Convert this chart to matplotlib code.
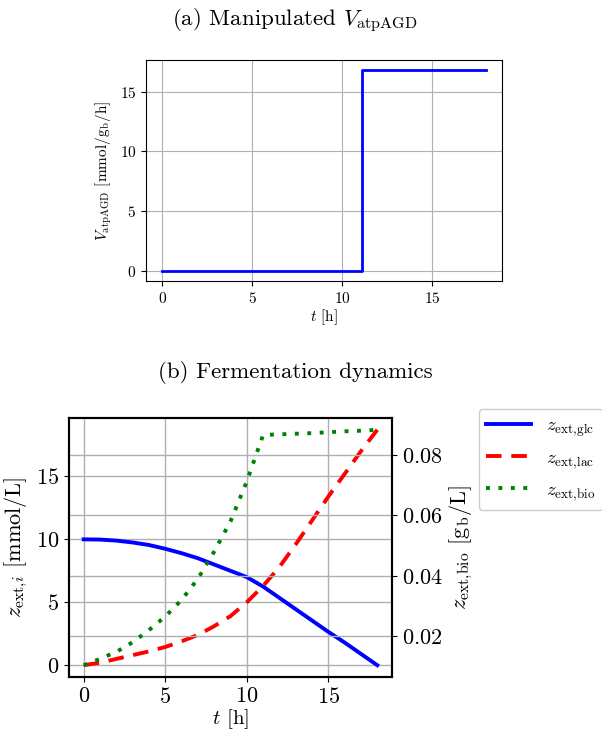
import numpy as np
import matplotlib
matplotlib.use('Agg')
import matplotlib.pyplot as plt

plt.rcParams['font.family'] = 'serif'
plt.rcParams['font.serif'] = ['cmr10']
plt.rcParams['mathtext.fontset'] = 'cm'
plt.rcParams['axes.formatter.use_mathtext'] = True
plt.rcParams['axes.unicode_minus'] = False

# (a) manipulated variable, step input
t_step = [0, 11.1, 18]
V_atp = [0, 16.8, 16.8]

t = list(range(19))
glc = [10.0, 9.98, 9.9, 9.75, 9.55, 9.25, 8.9, 8.5, 8.0, 7.5, 7.0,
       6.25, 5.35, 4.45, 3.55, 2.65, 1.8, 0.9, 0.0]
lac = [0.0, 0.2, 0.5, 0.8, 1.1, 1.45, 1.9, 2.4, 3.1, 3.9, 5.0,
       6.3, 7.8, 9.6, 11.5, 13.4, 15.2, 17.0, 18.7]
bio = [0.0104, 0.0125, 0.0148, 0.018, 0.022, 0.0265, 0.032, 0.039, 0.048,
       0.058, 0.0712, 0.0866, 0.0868, 0.087, 0.0872, 0.0875, 0.0878, 0.088, 0.0883]

fig = plt.figure(figsize=(6.02, 7.33), dpi=100)

# ---- (a)
ax = fig.add_axes([0.2425, 0.6166, 0.5914, 0.3015])
ax.plot(t_step, V_atp, drawstyle='steps-post', color='blue', lw=2)
ax.set_xticks([0, 5, 10, 15])
ax.set_yticks([0, 5, 10, 15])
ax.grid(True, color='#b0b0b0', lw=0.8)
ax.tick_params(labelsize=11)
ax.set_xlabel(r'$t$ [h]', fontsize=11, labelpad=1)
ax.set_ylabel(r'$V_{\mathrm{atpAGD}}$ [mmol/g$_\mathrm{b}$/h]', fontsize=11)
fig.text(0.49, 0.972, r'(a) Manipulated $V_{\mathrm{atpAGD}}$', ha='center', va='center', fontsize=16.5)

# ---- (b)
ax1 = fig.add_axes([0.1146, 0.0764, 0.5365, 0.3533])
ax2 = ax1.twinx()
l1, = ax1.plot(t, glc, color='blue', lw=2.8, label=r'$z_{\mathrm{ext,\!glc}}$')
l2, = ax1.plot(t, lac, color='red', lw=2.8, ls=(0, (4, 2.5)), label=r'$z_{\mathrm{ext,\!lac}}$')
l3, = ax2.plot(t, bio, color='green', lw=2.8, ls=(0, (1, 2.2)), label=r'$z_{\mathrm{ext,\!bio}}$')
ax1.set_xticks([0, 5, 10, 15])
ax1.set_yticks([0, 5, 10, 15])
ax2.set_yticks([0.02, 0.04, 0.06, 0.08])
ax1.grid(True, color='#b0b0b0', lw=1)
ax2.grid(True, color='#b0b0b0', lw=1)
for a in (ax1, ax2):
    a.tick_params(labelsize=16)
    for s in a.spines.values():
        s.set_linewidth(1.5)
ax1.set_xlabel(r'$t$ [h]', fontsize=15, labelpad=0)
ax1.set_ylabel(r'$z_{\mathrm{ext},\!i}$ [mmol/L]', fontsize=16, labelpad=4)
ax2.set_ylabel(r'$z_{\mathrm{ext,\!bio}}$ [g$_\mathrm{b}$/L]', fontsize=16, labelpad=4)
fig.text(0.49, 0.492, '(b) Fermentation dynamics', ha='center', va='center', fontsize=16.5)

fig.legend(handles=[l1, l2, l3], loc='upper left', bbox_to_anchor=(0.795, 0.442),
           fontsize=13.5, handlelength=2.4, labelspacing=0.55, borderaxespad=0,
           framealpha=1, edgecolor='#cccccc')

fig.savefig('out.png', dpi=100)
